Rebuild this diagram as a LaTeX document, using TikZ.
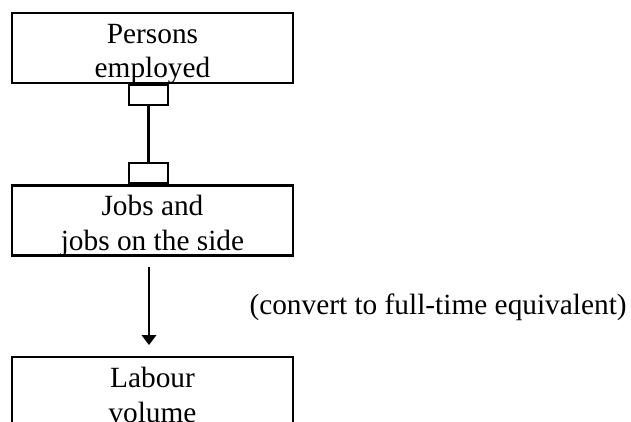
\documentclass[tikz,border=0pt]{standalone}
\usepackage{fontspec}
\setmainfont{Liberation Serif}
\usetikzlibrary{arrows.meta}

\tikzset{
  every picture/.style={line width=0.75pt},
  stagebox/.style={draw, line width=1.9pt, inner sep=0pt, minimum width=210.75pt, minimum height=52.5pt},
  linkbox/.style={draw, line width=1.9pt, inner sep=0pt, minimum width=29.25pt, minimum height=15pt},
  stagetext/.style={inner sep=0pt, align=center, font=\fontsize{22}{26}\selectfont},
  notetext/.style={inner sep=0pt, font=\fontsize{22}{26}\selectfont},
}

\begin{document}
\begin{tikzpicture}[x=0.75pt,y=0.75pt,yscale=-1,xscale=1]
\useasboundingbox (0,0) rectangle (631,421);

%% ---------------- boxes ----------------
\node [stagebox] (persons) at (152.5,48) {};
\node [stagebox] (jobs) at (152.5,220.5) {};
\node [stagebox] (labour) at (152.5,392) {};

%% ---------------- link between persons and jobs ----------------
\node [linkbox] (linktop) at (148.5,95) {};
\node [linkbox] (linkbottom) at (148.5,173) {};
\draw [line width=1.6pt] (linktop) -- (linkbottom) ;

%% ---------------- conversion arrow ----------------
\coordinate (convstart) at (149,267);
\coordinate (convend) at (149,345);
\draw [line width=1.3pt, -{Triangle[width=11pt,length=7.5pt]}] (convstart) -- (convend) ;

%% ---------------- text ----------------
\node [stagetext] (personslabel) at (152.5,54) {Persons\\employed};
\node [stagetext] (jobslabel) at (152.5,225.8) {Jobs and\\jobs on the side};
\node [stagetext] (labourlabel) at (152.5,395) {Labour\\volume};

\node [notetext, anchor=base west] (convnote) at (249,314) {(convert to full-time equivalent)};

\end{tikzpicture}
\end{document}
